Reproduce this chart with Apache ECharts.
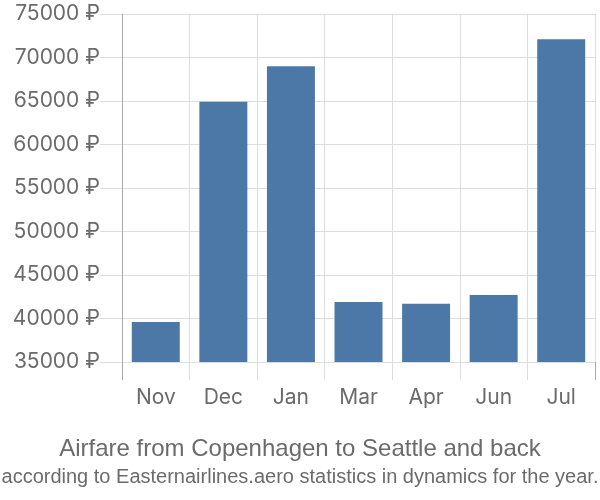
<!DOCTYPE html>
<html><head><meta charset="utf-8">
<script src="https://cdn.jsdelivr.net/npm/echarts@6/dist/echarts.min.js"></script>
<style>html,body{margin:0;padding:0;background:#fff}#c{width:600px;height:500px}</style>
</head><body><div id="c"></div>
<script>
const categories = ['Nov','Dec','Jan','Mar','Apr','Jun','Jul'];
const prices = [39600, 64900, 69000, 41900, 41700, 42700, 72100];
const yTicks = [35000, 75000, 5000];
const titleText = 'Airfare from Copenhagen to Seattle and back';
const subText = 'according to Easternairlines.aero statistics in dynamics for the year.';

const chart = echarts.init(document.getElementById('c'), null, {renderer:'canvas'});
chart.setOption({
  animation:false,
  textStyle:{fontFamily:'Liberation Sans, Arial, sans-serif'},
  title:[
    {text:titleText, left:'center', top:437, padding:0, textStyle:{fontSize:24, fontWeight:'normal', color:'#6b6b6b', fontFamily:'Liberation Sans'}},
    {text:subText, left:'center', top:467, padding:0, textStyle:{fontSize:20, fontWeight:'normal', color:'#6b6b6b', fontFamily:'Liberation Sans'}}
  ],
  grid:{left:122, right:5, top:14, bottom:138, containLabel:false},
  xAxis:[{
    type:'category', data:categories,
    axisLine:{show:false},
    axisTick:{show:true, length:18, alignWithLabel:false, lineStyle:{color:'#dddddd'}},
    splitLine:{show:true, lineStyle:{color:'#dddddd'}},
    axisLabel:{fontSize:21, color:'#6b6b6b', margin:25, fontFamily:'Inter'}
  },{
    type:'category', data:categories, position:'bottom',
    axisLine:{show:false}, axisLabel:{show:false}, splitLine:{show:false},
    axisTick:{show:true, length:18, interval:function(i){return i===0;}, lineStyle:{color:'#aaaaaa'}}
  }],
  yAxis:{
    type:'value', min:yTicks[0], max:yTicks[1], interval:yTicks[2],
    axisLine:{show:true, lineStyle:{color:'#aaaaaa'}},
    axisTick:{show:true, length:22, lineStyle:{color:'#dddddd'}},
    splitLine:{show:true, lineStyle:{color:'#dddddd'}},
    axisLabel:{fontSize:21, color:'#6b6b6b', margin:22, fontFamily:'Inter', formatter:function(v){return v+' ₽';}}
  },
  series:[{
    type:'bar', data:prices, barWidth:'71%', xAxisIndex:0,
    itemStyle:{color:'#4c78a8'}
  }]
});
</script></body></html>
